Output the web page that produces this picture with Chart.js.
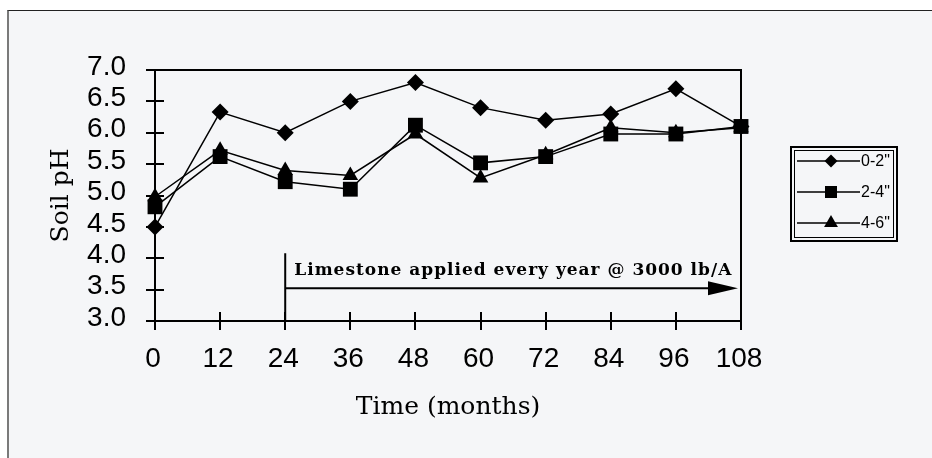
<!DOCTYPE html>
<html><head><meta charset="utf-8">
<script src="https://cdn.jsdelivr.net/npm/chart.js@4/dist/chart.umd.min.js"></script>
<style>
html,body{margin:0;padding:0;background:#fff;}
#wrap{position:relative;width:932px;height:458px;overflow:hidden;}
#frame{position:absolute;left:7px;top:10px;right:-5px;bottom:-5px;border-top:1px solid #222;border-left:2px solid #7a7a7a;background:#f5f6f8;}
canvas{position:absolute;left:0;top:0;}
</style></head><body>
<div id="wrap"><div id="frame"></div><canvas id="c" width="932" height="458"></canvas></div>
<script>
// ---- data ----
const months = [0, 12, 24, 36, 48, 60, 72, 84, 96, 108];
const ph0to2 = [4.5, 6.33, 6.0, 6.5, 6.8, 6.4, 6.2, 6.3, 6.7, 6.1];
const ph2to4 = [4.82, 5.62, 5.22, 5.1, 6.12, 5.52, 5.62, 5.98, 5.98, 6.1];
const ph4to6 = [4.98, 5.72, 5.4, 5.32, 5.98, 5.28, 5.65, 6.08, 6.0, 6.08];
const seriesLabels = ['0-2"', '2-4"', '4-6"'];
const xTitle = 'Time (months)';
const yTitle = 'Soil pH';
const noteText = 'Limestone applied every year @ 3000 lb/A';
const noteStartMonth = 24, noteEndMonth = 108, noteLevel = 3.52, noteTopLevel = 4.08;

const pts = arr => months.map((m, i) => ({x: m, y: arr[i]}));

const tickFont = {family: '"Liberation Sans", Arial, sans-serif', size: 28};
const titleFont = {family: '"DejaVu Serif", serif', size: 25};

const framePlugin = {
  id: 'framePlugin',
  beforeDatasetsDraw(chart) {
    const {ctx, chartArea: a, scales: {x, y}} = chart;
    ctx.save();
    ctx.strokeStyle = '#000';
    ctx.lineWidth = 2;
    ctx.strokeRect(a.left, a.top, a.right - a.left, a.bottom - a.top);
    ctx.beginPath();
    y.ticks.forEach(t => {
      const py = Math.round(y.getPixelForValue(t.value));
      ctx.moveTo(a.left - 9, py); ctx.lineTo(a.left + 9, py);
    });
    x.ticks.forEach(t => {
      const px = Math.round(x.getPixelForValue(t.value));
      ctx.moveTo(px, a.bottom - 9); ctx.lineTo(px, a.bottom + 9);
    });
    ctx.stroke();
    // annotation
    const x0 = x.getPixelForValue(noteStartMonth);
    const x1 = x.getPixelForValue(noteEndMonth);
    const yl = y.getPixelForValue(noteLevel);
    const yt = y.getPixelForValue(noteTopLevel);
    ctx.lineWidth = 2;
    ctx.beginPath();
    ctx.moveTo(x0, a.bottom); ctx.lineTo(x0, yt);
    ctx.moveTo(x0, yl); ctx.lineTo(x1 - 20, yl);
    ctx.stroke();
    ctx.fillStyle = '#000';
    ctx.beginPath();
    ctx.moveTo(x1 - 3, yl);
    ctx.lineTo(x1 - 33, yl - 7);
    ctx.lineTo(x1 - 33, yl + 7);
    ctx.closePath();
    ctx.fill();
    ctx.font = 'bold 17px "DejaVu Serif", serif';
    if ('letterSpacing' in ctx) ctx.letterSpacing = '1px';
    ctx.textAlign = 'left';
    ctx.textBaseline = 'alphabetic';
    ctx.fillText(noteText, x0 + 9, yl - 13);
    ctx.restore();
  },
  afterDraw(chart) {
    const {ctx} = chart;
    ctx.save();
    const bx = 790, by = 146, bw = 108, bh = 96;
    ctx.strokeStyle = '#000';
    ctx.lineWidth = 2;
    ctx.strokeRect(bx + 1, by + 1, bw - 2, bh - 2);
    ctx.lineWidth = 1;
    ctx.strokeRect(bx + 4.5, by + 4.5, bw - 9, bh - 9);
    const rowsY = [161, 192, 223];
    const legendRadius = [6.5, 8.5, 8];
    chart.data.datasets.forEach((ds, i) => {
      const ry = rowsY[i];
      ctx.lineWidth = 1.5;
      ctx.strokeStyle = '#000';
      ctx.beginPath();
      ctx.moveTo(797, ry); ctx.lineTo(860, ry);
      ctx.stroke();
      ctx.fillStyle = '#000';
      Chart.helpers.drawPoint(ctx, {pointStyle: ds.pointStyle, radius: legendRadius[i], rotation: 0, borderWidth: 0}, 831, ry);
      ctx.fillStyle = '#000';
      ctx.font = '16px "Liberation Sans", Arial, sans-serif';
      ctx.textAlign = 'left';
      ctx.textBaseline = 'middle';
      ctx.fillText(ds.label, 861, ry + 1);
    });
    ctx.restore();
  }
};

const mkDs = (label, arr, style, r) => ({
  label, data: pts(arr), pointStyle: style, pointRadius: r, pointHoverRadius: r,
  borderColor: '#000', backgroundColor: '#000', pointBackgroundColor: '#000',
  pointBorderWidth: 0, borderWidth: 1.5, tension: 0, clip: false
});

new Chart(document.getElementById('c'), {
  type: 'line',
  data: {
    datasets: [
      mkDs(seriesLabels[0], ph0to2, 'rectRot', 8.5),
      mkDs(seriesLabels[1], ph2to4, 'rect', 10.5),
      mkDs(seriesLabels[2], ph4to6, 'triangle', 9)
    ]
  },
  options: {
    responsive: false,
    animation: false,
    events: [],
    layout: {padding: {left: 0, top: 70, right: 191, bottom: 0}},
    plugins: {legend: {display: false}, tooltip: {enabled: false}},
    scales: {
      x: {
        type: 'linear', min: 0, max: 108, offset: false,
        grid: {display: false}, border: {display: false},
        ticks: {stepSize: 12, autoSkip: false, maxRotation: 0, color: '#000', font: tickFont, padding: 13, labelOffset: -2},
        title: {display: true, text: xTitle, color: '#000', font: titleFont, padding: {top: 0, bottom: 36}},
        afterFit(s) { s.height = 137; }
      },
      y: {
        min: 3, max: 7,
        grid: {display: false}, border: {display: false},
        ticks: {stepSize: 0.5, autoSkip: false, color: '#000', font: tickFont, padding: 21, labelOffset: -3,
          callback: v => Number(v).toFixed(1)},
        title: {display: true, text: yTitle, color: '#000', font: titleFont, padding: {top: 46, bottom: 0}},
        afterFit(s) { s.width = 155; }
      }
    }
  },
  plugins: [framePlugin]
});
</script>
</body></html>
